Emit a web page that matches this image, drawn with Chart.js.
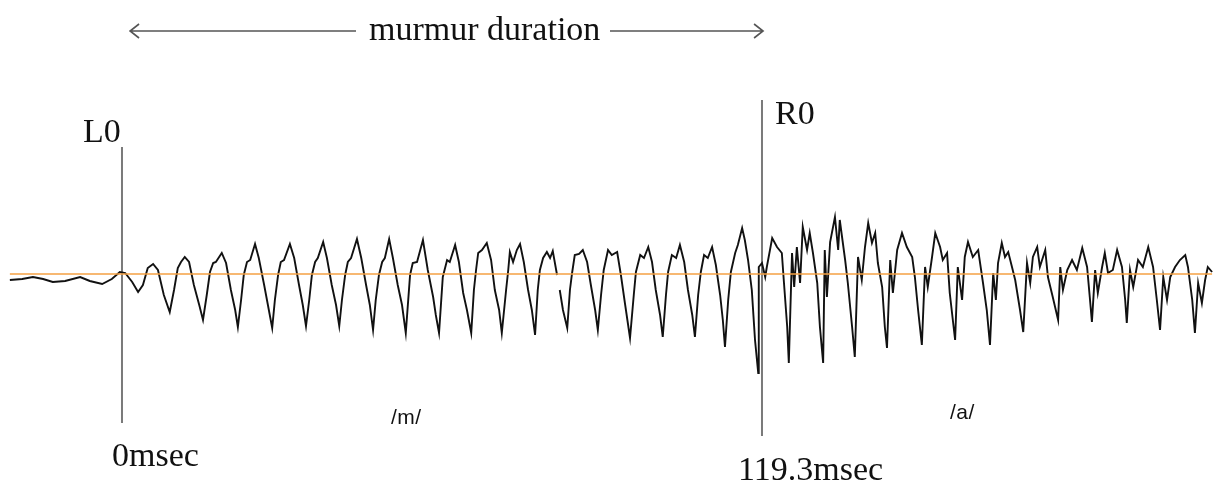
<!DOCTYPE html>
<html>
<head>
<meta charset="utf-8">
<script src="https://cdn.jsdelivr.net/npm/chart.js@4.4.0/dist/chart.umd.min.js"></script>
<style>
    html, body { margin: 0; padding: 0; background: #fff; }
    #contenedor { position: relative; width: 1219px; height: 485px; overflow: hidden; }
    #contenedor canvas { position: absolute; left: 0; top: 0; }
    .serif {
        position: absolute;
        font-family: "Liberation Serif", "Times New Roman", serif;
        font-size: 34px;
        line-height: 34px;
        color: #111;
        white-space: nowrap;
    }
    .ipa {
        position: absolute;
        font-family: "Liberation Sans", Arial, sans-serif;
        font-size: 21px;
        line-height: 21px;
        letter-spacing: 0.5px;
        color: #111;
        white-space: nowrap;
    }
</style>
</head>
<body>
<div id="contenedor">
    <canvas id="grafica" width="1219" height="485"></canvas>
    <div class="serif" id="titulo" style="left:369px; top:12px;">murmur duration</div>
    <div class="serif" id="etiqueta-l0" style="top:114px;">L0</div>
    <div class="serif" id="etiqueta-r0" style="top:96px;">R0</div>
    <div class="serif" id="tiempo-l0" style="top:438px;">0msec</div>
    <div class="serif" id="tiempo-r0" style="top:452px;">119.3msec</div>
    <div class="ipa" id="fonema-m" style="left:391px; top:406px;">/m/</div>
    <div class="ipa" id="fonema-a" style="left:950px; top:401px;">/a/</div>
</div>

<script>
// =======================================================
// DATOS (tiempo en msec, amplitud en unidades de la figura)
// =======================================================
const tramoPrevio = [
    [-20.9, -6], [-18.6, -5], [-16.6, -3], [-14.7, -5], [-12.9, -8], [-10.6, -7],
    [-7.8, -3], [-6.0, -7], [-3.7, -10], [-1.9, -5], [-0.4, 2]
];

// /m/ primera mitad
const tramoM1 = [
    [0.6, 1], [1.9, -8], [3.0, -18], [3.9, -11], [4.8, 6], [5.8, 10], [6.7, 4],
    [7.8, -21], [8.9, -38], [9.7, -16], [10.4, 6], [11.0, 12], [11.7, 17], [12.5, 12],
    [13.4, -11], [14.4, -31], [15.1, -46], [15.8, -21], [16.4, 2], [17.0, 11], [17.5, 12],
    [18.6, 21], [19.4, 11], [20.3, -16], [21.1, -36], [21.6, -53], [22.2, -26], [22.7, -1],
    [23.3, 12], [23.9, 14], [24.8, 30], [25.5, 16], [26.5, -11], [27.2, -31], [28.0, -54],
    [28.5, -26], [29.1, -1], [29.6, 12], [30.2, 14], [31.3, 30], [32.1, 16], [33.0, -11],
    [33.7, -31], [34.3, -52], [34.9, -26], [35.4, -1], [36.0, 12], [36.5, 16], [37.5, 32],
    [38.2, 16], [39.1, -11], [39.9, -31], [40.5, -52], [41.0, -26], [41.6, -1], [42.1, 12],
    [42.7, 16], [43.8, 35], [44.6, 16], [45.5, -11], [46.2, -31], [46.8, -56], [47.3, -26],
    [47.9, -1], [48.5, 12], [49.0, 16], [49.8, 35], [50.5, 16], [51.4, -11], [52.2, -31],
    [52.9, -59], [53.7, -1], [54.2, 11], [55.0, 12], [56.1, 34], [57.0, 4], [58.0, -23],
    [58.5, -41], [59.1, -59]
];

// /m/ segunda mitad
const tramoM2 = [
    [59.8, -3], [60.6, 14], [61.1, 12], [62.1, 29], [62.8, 12], [63.6, -19], [64.3, -36],
    [65.1, -59], [65.6, -16], [66.0, 4], [66.4, 21], [67.1, 24], [68.0, 31], [68.8, 14],
    [69.5, -16], [70.3, -36], [70.8, -59], [71.6, -16], [72.0, 4], [72.3, 22], [72.9, 12],
    [73.6, 24], [74.2, 30], [74.9, 12], [75.7, -16], [76.4, -36], [77.0, -61], [77.5, -16],
    [77.9, 4], [78.5, 16], [79.2, 22], [79.8, 16], [80.3, 23], [81.1, -1], [81.3, null],
    [81.6, -16], [82.2, -36], [83.0, -54], [83.5, -16], [83.9, 1], [84.4, 19], [85.2, 20],
    [85.9, 24], [86.7, 12], [87.4, -11], [88.2, -36], [88.7, -56], [89.3, -21], [89.8, 4],
    [90.6, 24], [91.3, 19], [92.3, 22], [93.0, -1], [93.8, -31], [94.7, -64], [95.4, -21],
    [95.8, 2], [96.6, 19], [97.3, 16], [98.1, 27], [98.8, 12], [99.5, -16], [100.3, -41],
    [100.8, -63], [101.4, -21], [101.8, 2], [102.5, 19], [103.3, 16], [104.0, 29], [104.8, 12],
    [105.5, -16], [106.3, -41], [106.8, -63], [107.4, -21], [107.9, 2], [108.5, 19], [109.2, 16],
    [110.0, 27], [110.7, 9], [111.5, -21], [112.0, -46], [112.4, -73], [113.0, -26], [113.5, 2],
    [114.3, 21], [114.8, 29], [115.6, 46], [116.1, 34], [116.7, 14], [117.4, -16], [118.0, -66],
    [118.6, -99]
];

// /a/ primera mitad
const tramoA1 = [
    [118.7, 7], [119.3, 11], [119.9, -3], [120.2, 7], [121.2, 36], [122.1, 27], [123.0, 21],
    [123.4, -9], [124.0, -53], [124.3, -89], [124.9, 21], [125.3, -13], [125.8, 27], [126.4, -9],
    [126.9, 47], [127.7, 24], [128.2, 41], [128.8, 21], [129.6, -9], [130.1, -53], [130.7, -89],
    [131.0, 24], [131.4, -23], [132.0, 32], [132.9, 57], [133.5, 24], [133.8, 54], [134.8, 14],
    [135.3, -9], [136.1, -53], [136.6, -83], [137.2, 17], [137.9, -6], [138.5, 27], [139.1, 51],
    [139.8, 31], [140.4, 41], [140.9, 11], [141.7, -13], [142.2, -53], [142.6, -74], [143.2, 14],
    [143.7, -19], [144.5, 24], [145.4, 41], [146.3, 27], [147.3, 17], [147.8, -3], [148.4, -36],
    [149.1, -71], [149.7, 7], [150.2, -13], [151.0, 17], [151.6, 41], [152.5, 27], [153.0, 14],
    [153.8, 21], [154.3, -19], [155.3, -66], [155.8, 7], [156.6, -26], [157.1, 17], [157.7, 32],
    [158.6, 17], [159.6, 24], [160.5, -9], [161.2, -36], [161.8, -71]
];

// /a/ segunda mitad
const tramoA2 = [
    [162.4, 1], [162.9, -26], [163.3, 11], [164.0, 31], [164.6, 17], [165.2, 22], [165.9, 7],
    [166.5, -6], [167.4, -36], [168.0, -58], [168.7, 11], [169.3, -9], [169.8, 17], [170.6, 27],
    [171.1, 7], [172.1, 24], [172.6, -3], [173.5, -23], [174.5, -46], [174.9, 7], [175.4, -16],
    [176.2, 4], [177.1, 14], [178.0, 4], [179.0, 26], [179.9, 7], [180.4, -23], [180.8, -48],
    [181.4, 4], [181.9, -19], [182.7, 7], [183.2, 21], [183.8, 1], [184.7, 4], [185.5, 24],
    [186.4, 7], [187.0, -26], [187.3, -49], [187.9, 4], [188.5, -13], [189.4, 14], [190.3, 7],
    [191.3, 27], [192.2, 7], [192.9, -26], [193.5, -56], [194.1, -3], [194.8, -26], [195.4, -3],
    [196.3, 7], [197.2, 14], [198.2, 19], [198.7, 7], [199.5, -26], [200.0, -59], [200.6, -9],
    [201.3, -29], [201.9, -6], [202.4, 7], [203.2, 2]
];

// Marcas de inicio (L0) y fin (R0) del murmullo, en msec
const marcasNombre = ["L0", "R0"];
const marcasTiempo = [0, 119.3];

// =======================================================
// CONFIGURACIÓN DE DIBUJO
// =======================================================
const ejeX = { min: -22.74, max: 204.49 };
const ejeY = { min: -211, max: 274 };
const extremosMarcas = [[127, -149], [174, -162]];   // alto / bajo de cada línea vertical
const alturaFlecha = 243;
const flechaInicio = 1.5;
const flechaFin = 119.5;

const onda = [...tramoPrevio, ...tramoM1, ...tramoM2, ...tramoA1, ...tramoA2]
    .map(p => ({ x: p[0], y: p[1] }));

const lineaBase = [
    { x: tramoPrevio[0][0], y: 0 },
    { x: tramoA2[tramoA2.length - 1][0], y: 0 }
];

const datasetsMarcas = marcasTiempo.map((t, i) => ({
    label: marcasNombre[i],
    data: [{ x: t, y: extremosMarcas[i][0] }, { x: t, y: extremosMarcas[i][1] }],
    borderColor: "#7a7a7a",
    borderWidth: 2,
    pointRadius: 0,
    order: 3
}));

// =======================================================
// PLUGIN: flechas y posición de etiquetas
// =======================================================
const anotaciones = {
    id: "anotaciones",
    afterDraw(chart) {
        const { ctx, scales: { x, y } } = chart;
        const yF = y.getPixelForValue(alturaFlecha);
        const xIni = x.getPixelForValue(flechaInicio);
        const xFin = x.getPixelForValue(flechaFin);
        const titulo = document.getElementById("titulo");
        const huecoIzq = titulo.offsetLeft - 13;
        const huecoDer = titulo.offsetLeft + titulo.offsetWidth + 10;

        ctx.save();
        ctx.strokeStyle = "#555";
        ctx.lineWidth = 1.6;
        ctx.beginPath();
        ctx.moveTo(xIni, yF); ctx.lineTo(huecoIzq, yF);
        ctx.moveTo(huecoDer, yF); ctx.lineTo(xFin, yF);
        // puntas
        ctx.moveTo(xIni + 9, yF - 7); ctx.lineTo(xIni, yF); ctx.lineTo(xIni + 9, yF + 7);
        ctx.moveTo(xFin - 9, yF - 7); ctx.lineTo(xFin, yF); ctx.lineTo(xFin - 9, yF + 7);
        ctx.stroke();
        ctx.restore();

        // etiquetas junto a las líneas verticales
        const xL0 = x.getPixelForValue(marcasTiempo[0]);
        const xR0 = x.getPixelForValue(marcasTiempo[1]);
        const l0 = document.getElementById("etiqueta-l0");
        l0.style.left = (xL0 - l0.offsetWidth - 1) + "px";
        document.getElementById("etiqueta-r0").style.left = (xR0 + 13) + "px";
        document.getElementById("tiempo-l0").style.left = (xL0 - 10) + "px";
        document.getElementById("tiempo-r0").style.left = (xR0 - 24) + "px";
    }
};

// =======================================================
// GRÁFICA
// =======================================================
const ctx = document.getElementById("grafica").getContext("2d");

new Chart(ctx, {
    type: "line",
    data: {
        datasets: [
            {
                label: "onda",
                data: onda,
                borderColor: "#111",
                borderWidth: 1.9,
                pointRadius: 0,
                tension: 0,
                spanGaps: false,
                order: 2
            },
            {
                label: "base",
                data: lineaBase,
                borderColor: "#f5a043",
                borderWidth: 1.6,
                pointRadius: 0,
                order: 1
            },
            ...datasetsMarcas
        ]
    },
    options: {
        responsive: false,
        animation: false,
        layout: { padding: 0 },
        plugins: {
            legend: { display: false },
            tooltip: { enabled: false }
        },
        elements: { line: { borderCapStyle: "butt" } },
        scales: {
            x: { type: "linear", display: false, min: ejeX.min, max: ejeX.max },
            y: { type: "linear", display: false, min: ejeY.min, max: ejeY.max }
        }
    },
    plugins: [anotaciones]
});
</script>
</body>
</html>
